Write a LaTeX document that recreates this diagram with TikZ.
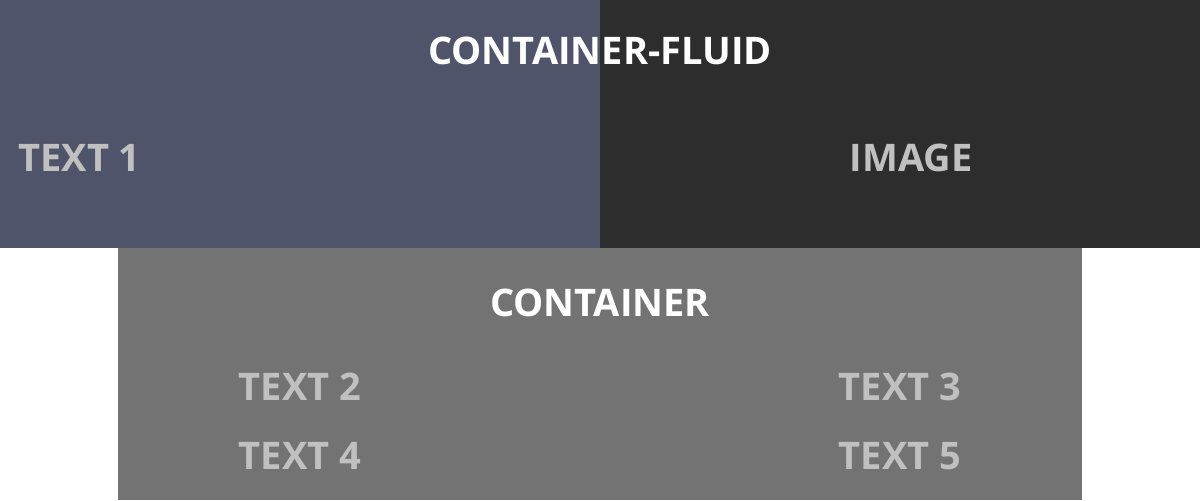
\documentclass[tikz,border=0pt]{standalone}
\usepackage{fontspec}
\setmainfont{Open Sans}
\usepackage{xcolor}
\definecolor{fluidleft}{HTML}{50546A}
\definecolor{fluidright}{HTML}{2D2D2D}
\definecolor{boxgray}{HTML}{737373}
\definecolor{textgray}{HTML}{C0C0C0}

\begin{document}
\begin{tikzpicture}[x=0.5pt,y=-0.5pt]
    \tikzstyle{label}=[inner sep=0pt,font=\fontsize{19}{23}\selectfont\bfseries]
    \tikzstyle{title}=[label,text=white]
    \tikzstyle{item}=[label,text=textgray]
    \useasboundingbox (0,0) rectangle (1200,500);
    \fill[white] (0,0) rectangle (1200,500);
    \fill[fluidleft] (0,0) rectangle (600,248);
    \fill[fluidright] (600,0) rectangle (1200,248);
    \fill[boxgray] (118,248) rectangle (1082,500);
    \node[title] (fluid) at (600,51) {CONTAINER-FLUID};
    \node[item,anchor=west] (text1) at (18,158) {TEXT 1};
    \node[item] (image) at (911,158) {IMAGE};
    \node[title] (container) at (600,303) {CONTAINER};
    \node[item] (text2) at (300,387) {TEXT 2};
    \node[item] (text3) at (900,387) {TEXT 3};
    \node[item] (text4) at (300,456) {TEXT 4};
    \node[item] (text5) at (900,456) {TEXT 5};
\end{tikzpicture}
\end{document}
